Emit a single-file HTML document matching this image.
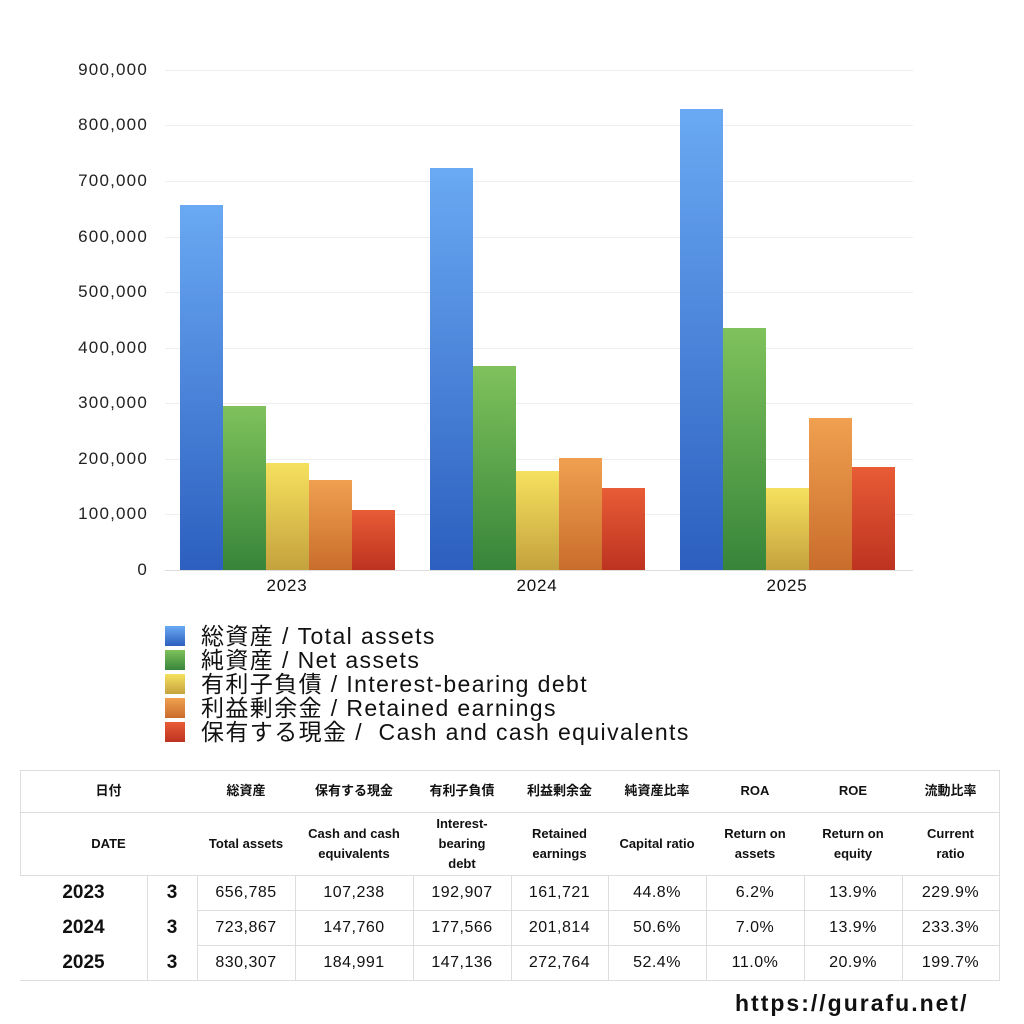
<!DOCTYPE html>
<html><head><meta charset="utf-8"><style>
body{margin:0;width:1024px;height:1024px;background:#fff;font-family:"Liberation Sans","Noto Sans CJK JP",sans-serif;position:relative;overflow:hidden;color:#111}
.a{position:absolute}
.yl{position:absolute;right:876px;font-size:17px;color:#222;text-align:right;letter-spacing:1.2px}
.g{position:absolute;left:165px;width:748px;height:1px;background:#eee}
.b{position:absolute;width:43px}
.B{background:linear-gradient(#6aa9f3,#2c5fbf)}
.G{background:linear-gradient(#7fc25c,#37853a)}
.Y{background:linear-gradient(#f6e15e,#c4a23e)}
.O{background:linear-gradient(#f0a050,#c96d2c)}
.R{background:linear-gradient(#e85c36,#bd3320)}
.xl{position:absolute;font-size:17px;width:100px;text-align:center;top:576px;letter-spacing:0.8px}
.lg{position:absolute;left:165px;font-size:23px;line-height:24px;letter-spacing:1.4px;white-space:nowrap}
.lg span{display:inline-block;width:20px;height:20px;vertical-align:-2px;margin-right:16px}
.c{position:absolute;text-align:center;display:flex;align-items:center;justify-content:center;font-size:14px}
.h{font-weight:bold;font-size:13px;line-height:20px}
.v{font-size:16px;letter-spacing:0.5px}
.hl{position:absolute;height:1px;background:#ddd}
.vl{position:absolute;width:1px;background:#ddd}
</style></head><body>
<div class="g" style="top:70px"></div><div class="g" style="top:125px"></div><div class="g" style="top:181px"></div><div class="g" style="top:237px"></div><div class="g" style="top:292px"></div><div class="g" style="top:348px"></div><div class="g" style="top:403px"></div><div class="g" style="top:459px"></div><div class="g" style="top:514px"></div><div class="g" style="top:570px;background:#ddd"></div>
<div class="yl" style="top:60px">900,000</div><div class="yl" style="top:115px">800,000</div><div class="yl" style="top:171px">700,000</div><div class="yl" style="top:227px">600,000</div><div class="yl" style="top:282px">500,000</div><div class="yl" style="top:338px">400,000</div><div class="yl" style="top:393px">300,000</div><div class="yl" style="top:449px">200,000</div><div class="yl" style="top:504px">100,000</div><div class="yl" style="top:560px">0</div>
<div class="b B" style="left:180px;top:205px;height:365px"></div>
<div class="b G" style="left:223px;top:406px;height:164px"></div>
<div class="b Y" style="left:266px;top:463px;height:107px"></div>
<div class="b O" style="left:309px;top:480px;height:90px"></div>
<div class="b R" style="left:352px;top:510px;height:60px"></div>
<div class="b B" style="left:430px;top:168px;height:402px"></div>
<div class="b G" style="left:473px;top:366px;height:204px"></div>
<div class="b Y" style="left:516px;top:471px;height:99px"></div>
<div class="b O" style="left:559px;top:458px;height:112px"></div>
<div class="b R" style="left:602px;top:488px;height:82px"></div>
<div class="b B" style="left:680px;top:109px;height:461px"></div>
<div class="b G" style="left:723px;top:328px;height:242px"></div>
<div class="b Y" style="left:766px;top:488px;height:82px"></div>
<div class="b O" style="left:809px;top:418px;height:152px"></div>
<div class="b R" style="left:852px;top:467px;height:103px"></div>
<div class="xl" style="left:237px">2023</div><div class="xl" style="left:487px">2024</div><div class="xl" style="left:737px">2025</div>
<div class="lg" style="top:624px"><span class="B"></span>総資産 / Total assets</div>
<div class="lg" style="top:648px"><span class="G"></span>純資産 / Net assets</div>
<div class="lg" style="top:672px"><span class="Y"></span>有利子負債 / Interest-bearing debt</div>
<div class="lg" style="top:696px"><span class="O"></span>利益剰余金 / Retained earnings</div>
<div class="lg" style="top:720px"><span class="R"></span>保有する現金 /&nbsp; Cash and cash equivalents</div>
<div class="hl" style="left:20px;width:980px;top:770px"></div>
<div class="hl" style="left:20px;width:980px;top:812px"></div>
<div class="hl" style="left:20px;width:980px;top:875px"></div>
<div class="hl" style="left:197px;width:803px;top:910px"></div>
<div class="hl" style="left:197px;width:803px;top:945px"></div>
<div class="hl" style="left:20px;width:980px;top:980px"></div>
<div class="vl" style="left:20px;top:770px;height:105px"></div>
<div class="vl" style="left:999px;top:770px;height:210px"></div>
<div class="vl" style="left:147px;top:875px;height:105px"></div>
<div class="vl" style="left:197px;top:875px;height:105px"></div>
<div class="vl" style="left:295px;top:875px;height:105px"></div>
<div class="vl" style="left:413px;top:875px;height:105px"></div>
<div class="vl" style="left:511px;top:875px;height:105px"></div>
<div class="vl" style="left:608px;top:875px;height:105px"></div>
<div class="vl" style="left:706px;top:875px;height:105px"></div>
<div class="vl" style="left:804px;top:875px;height:105px"></div>
<div class="vl" style="left:902px;top:875px;height:105px"></div>
<div class="c h" style="left:20px;width:177px;top:770px;height:42px">日付</div>
<div class="c h" style="left:197px;width:98px;top:770px;height:42px">総資産</div>
<div class="c h" style="left:295px;width:118px;top:770px;height:42px">保有する現金</div>
<div class="c h" style="left:413px;width:98px;top:770px;height:42px">有利子負債</div>
<div class="c h" style="left:511px;width:97px;top:770px;height:42px">利益剰余金</div>
<div class="c h" style="left:608px;width:98px;top:770px;height:42px">純資産比率</div>
<div class="c h" style="left:706px;width:98px;top:770px;height:42px">ROA</div>
<div class="c h" style="left:804px;width:98px;top:770px;height:42px">ROE</div>
<div class="c h" style="left:902px;width:97px;top:770px;height:42px">流動比率</div>
<div class="c h" style="left:20px;width:177px;top:812px;height:63px">DATE</div>
<div class="c h" style="left:197px;width:98px;top:812px;height:63px">Total assets</div>
<div class="c h" style="left:295px;width:118px;top:812px;height:63px">Cash and cash<br>equivalents</div>
<div class="c h" style="left:413px;width:98px;top:812px;height:63px">Interest-<br>bearing<br>debt</div>
<div class="c h" style="left:511px;width:97px;top:812px;height:63px">Retained<br>earnings</div>
<div class="c h" style="left:608px;width:98px;top:812px;height:63px">Capital ratio</div>
<div class="c h" style="left:706px;width:98px;top:812px;height:63px">Return on<br>assets</div>
<div class="c h" style="left:804px;width:98px;top:812px;height:63px">Return on<br>equity</div>
<div class="c h" style="left:902px;width:97px;top:812px;height:63px">Current<br>ratio</div>
<div class="c" style="left:20px;width:127px;top:875px;height:35px;font-size:19px;font-weight:bold">2023</div>
<div class="c" style="left:20px;width:127px;top:910px;height:35px;font-size:19px;font-weight:bold">2024</div>
<div class="c" style="left:20px;width:127px;top:945px;height:35px;font-size:19px;font-weight:bold">2025</div>
<div class="c" style="left:147px;width:50px;top:875px;height:35px;font-size:19px;font-weight:bold">3</div>
<div class="c" style="left:147px;width:50px;top:910px;height:35px;font-size:19px;font-weight:bold">3</div>
<div class="c" style="left:147px;width:50px;top:945px;height:35px;font-size:19px;font-weight:bold">3</div>
<div class="c v" style="left:197px;width:98px;top:875px;height:35px">656,785</div>
<div class="c v" style="left:295px;width:118px;top:875px;height:35px">107,238</div>
<div class="c v" style="left:413px;width:98px;top:875px;height:35px">192,907</div>
<div class="c v" style="left:511px;width:97px;top:875px;height:35px">161,721</div>
<div class="c v" style="left:608px;width:98px;top:875px;height:35px">44.8%</div>
<div class="c v" style="left:706px;width:98px;top:875px;height:35px">6.2%</div>
<div class="c v" style="left:804px;width:98px;top:875px;height:35px">13.9%</div>
<div class="c v" style="left:902px;width:97px;top:875px;height:35px">229.9%</div>
<div class="c v" style="left:197px;width:98px;top:910px;height:35px">723,867</div>
<div class="c v" style="left:295px;width:118px;top:910px;height:35px">147,760</div>
<div class="c v" style="left:413px;width:98px;top:910px;height:35px">177,566</div>
<div class="c v" style="left:511px;width:97px;top:910px;height:35px">201,814</div>
<div class="c v" style="left:608px;width:98px;top:910px;height:35px">50.6%</div>
<div class="c v" style="left:706px;width:98px;top:910px;height:35px">7.0%</div>
<div class="c v" style="left:804px;width:98px;top:910px;height:35px">13.9%</div>
<div class="c v" style="left:902px;width:97px;top:910px;height:35px">233.3%</div>
<div class="c v" style="left:197px;width:98px;top:945px;height:35px">830,307</div>
<div class="c v" style="left:295px;width:118px;top:945px;height:35px">184,991</div>
<div class="c v" style="left:413px;width:98px;top:945px;height:35px">147,136</div>
<div class="c v" style="left:511px;width:97px;top:945px;height:35px">272,764</div>
<div class="c v" style="left:608px;width:98px;top:945px;height:35px">52.4%</div>
<div class="c v" style="left:706px;width:98px;top:945px;height:35px">11.0%</div>
<div class="c v" style="left:804px;width:98px;top:945px;height:35px">20.9%</div>
<div class="c v" style="left:902px;width:97px;top:945px;height:35px">199.7%</div>
<div class="a" style="left:735px;top:990px;font-size:23px;font-weight:bold;letter-spacing:2px">https://gurafu.net/</div>
</body></html>
